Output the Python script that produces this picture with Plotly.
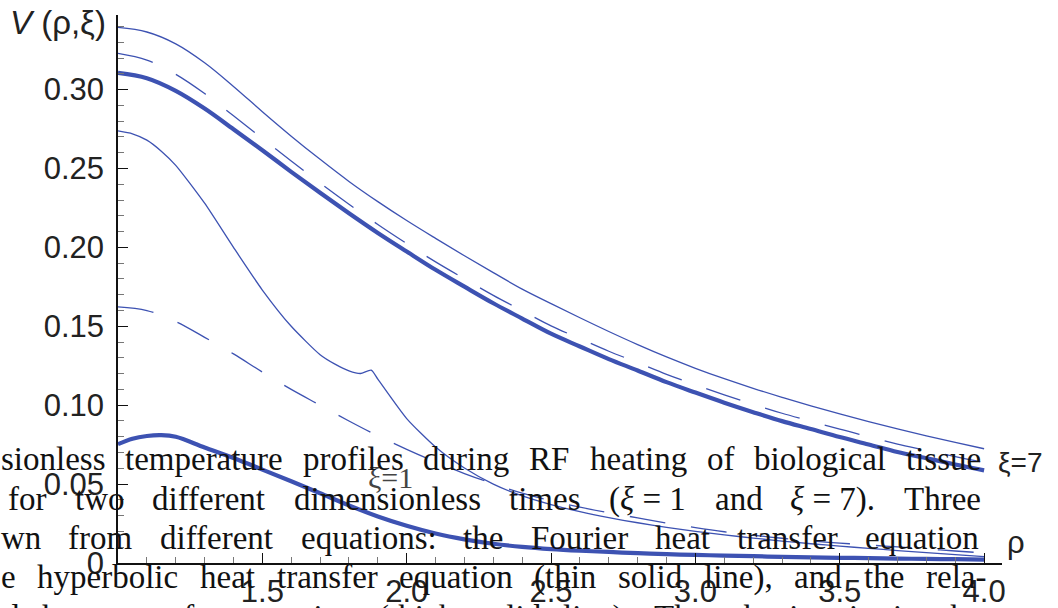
import plotly.graph_objects as go

# ---------------- data ----------------
rho = [1.0, 1.1, 1.2, 1.3, 1.4, 1.5, 1.6, 1.7, 1.8, 1.9, 2.0, 2.1, 2.2, 2.3, 2.4, 2.5,
       2.6, 2.7, 2.8, 2.9, 3.0, 3.1, 3.2, 3.3, 3.4, 3.5, 3.6, 3.7, 3.8, 3.9, 4.0]

# xi = 7
hyperbolic_7 = [0.3394, 0.3365, 0.3290, 0.3170, 0.3020, 0.2860, 0.2705, 0.2558, 0.2418, 0.2290,
                0.2170, 0.2057, 0.1947, 0.1840, 0.1736, 0.1644, 0.1554, 0.1467, 0.1384, 0.1306,
                0.1234, 0.1168, 0.1107, 0.1050, 0.0996, 0.0945, 0.0896, 0.0850, 0.0806, 0.0764, 0.0724]
fourier_7 = [0.3229, 0.3187, 0.3097, 0.2975, 0.2834, 0.2691, 0.2547, 0.2408, 0.2274, 0.2145,
             0.2024, 0.1908, 0.1801, 0.1696, 0.1599, 0.1503, 0.1422, 0.1342, 0.1270, 0.1196,
             0.1130, 0.1066, 0.1006, 0.0949, 0.0899, 0.0848, 0.0801, 0.0753, 0.0714, 0.0674, 0.0637]
relativistic_7 = [0.3106, 0.3072, 0.2992, 0.2880, 0.2749, 0.2616, 0.2479, 0.2346, 0.2217, 0.2092,
                  0.1974, 0.1858, 0.1751, 0.1646, 0.1549, 0.1453, 0.1372, 0.1292, 0.1220, 0.1146,
                  0.1080, 0.1016, 0.0956, 0.0899, 0.0849, 0.0798, 0.0751, 0.0703, 0.0664, 0.0624, 0.0587]

# xi = 1
rho_hyp_1 = [1.0, 1.05, 1.1, 1.15, 1.2, 1.3, 1.4, 1.5, 1.6, 1.7, 1.75, 1.8, 1.84, 1.877, 1.9, 2.0,
             2.1, 2.2, 2.3, 2.4, 2.5, 2.6, 2.7, 2.8, 2.9, 3.0, 3.1, 3.2, 3.3, 3.4, 3.5, 3.6, 3.7,
             3.8, 3.9, 4.0]
hyperbolic_1 = [0.2738, 0.2720, 0.2680, 0.2610, 0.2520, 0.2280, 0.2000, 0.1730, 0.1500, 0.1320,
                0.1262, 0.1218, 0.1201, 0.1222, 0.1165, 0.0915, 0.0735, 0.0602, 0.0500, 0.0425,
                0.0370, 0.0325, 0.0287, 0.0255, 0.0226, 0.0200, 0.0178, 0.0158, 0.0139, 0.0122,
                0.0107, 0.0093, 0.0079, 0.0066, 0.0053, 0.0040]
fourier_1 = [0.1623, 0.1600, 0.1530, 0.1430, 0.1325, 0.1210, 0.1100, 0.1000, 0.0900, 0.0806,
             0.0720, 0.0640, 0.0567, 0.0502, 0.0443, 0.0395, 0.0354, 0.0318, 0.0286, 0.0253,
             0.0224, 0.0198, 0.0176, 0.0157, 0.0140, 0.0126, 0.0114, 0.0102, 0.0089, 0.0076, 0.0064]
rho_rel_1 = [1.0, 1.05, 1.1, 1.15, 1.2, 1.3, 1.4, 1.5, 1.6, 1.7, 1.8, 1.9, 2.0, 2.1, 2.2, 2.3,
             2.4, 2.5, 2.6, 2.7, 2.8, 2.9, 3.0, 3.1, 3.2, 3.3, 3.4, 3.5, 3.6, 3.7, 3.8, 3.9, 4.0]
relativistic_1 = [0.0753, 0.0788, 0.0805, 0.0810, 0.0800, 0.0732, 0.0665, 0.0592, 0.0518, 0.0442,
                  0.0365, 0.0295, 0.0236, 0.0187, 0.0150, 0.0122, 0.0102, 0.0088, 0.0078, 0.0070,
                  0.0062, 0.0056, 0.0051, 0.0047, 0.0043, 0.0039, 0.0036, 0.0033, 0.0031, 0.0028,
                  0.0026, 0.0024, 0.0022]

x_tick_vals = [1.5, 2.0, 2.5, 3.0, 3.5, 4.0]
x_tick_text = ["1.5", "2.0", "2.5", "3.0", "3.5", "4.0"]
y_tick_vals = [0.0, 0.05, 0.10, 0.15, 0.20, 0.25, 0.30]
y_tick_text = ["0", "0.05", "0.10", "0.15", "0.20", "0.25", "0.30"]

# caption text visible in the picture (justified lines)
caption_line1 = ["sionless", "temperature", "profiles", "during", "RF", "heating", "of", "biological", "tissue"]
caption_line2 = ["for", "two", "different", "dimensionless", "times", "(ξ = 1", "and", "ξ = 7).", "Three"]
caption_line3 = ["wn", "from", "different", "equations:", "the", "Fourier", "heat", "transfer", "equation"]
caption_line4 = ["e", "hyperbolic", "heat", "transfer", "equation", "(thin", "solid", "line),", "and", "the", "rela-"]
caption_line5 = ["d", "heat", "transfer", "equation", "(thick", "solid", "line).", "The", "physics", "is", "in", "the"]

# ---------------- layout geometry ----------------
W, H = 1058, 608
ML, MR, MT, MB = 118, 56, 15, 45
PW, PH = W - ML - MR, H - MT - MB
XR = [1.0, 1.0 + PW / 288.7]
YR = [0.0, PH / 1578.0]

BLUE = "#3d52b2"


def px_x(px):
    return (px - ML) / PW


def px_y(py):
    return (MT + PH - py) / PH


fig = go.Figure()
thin = dict(color=BLUE, width=1.3)
fig.add_trace(go.Scatter(x=rho, y=hyperbolic_7, mode="lines", line=dict(**thin, shape="spline")))
fig.add_trace(go.Scatter(x=rho, y=fourier_7, mode="lines", line=dict(**thin, dash="36px,26px", shape="spline")))
fig.add_trace(go.Scatter(x=rho, y=relativistic_7, mode="lines", line=dict(color=BLUE, width=4.2, shape="spline")))
fig.add_trace(go.Scatter(x=rho_hyp_1, y=hyperbolic_1, mode="lines", line=dict(**thin, shape="spline", smoothing=0.6)))
fig.add_trace(go.Scatter(x=rho, y=fourier_1, mode="lines", line=dict(**thin, dash="36px,26px", shape="spline")))
fig.add_trace(go.Scatter(x=rho_rel_1, y=relativistic_1, mode="lines", line=dict(color=BLUE, width=4.2, shape="spline")))

tickfont = dict(family="Liberation Sans, Arial, sans-serif", size=31, color="#222")
fig.update_xaxes(range=XR, automargin=False, showgrid=False, zeroline=False, showline=True,
                 linecolor="#111", linewidth=1.6,
                 tickmode="array", tickvals=x_tick_vals, ticktext=x_tick_text, ticks="inside",
                 ticklen=10, tickwidth=1, tickcolor="#111", tickfont=tickfont, ticklabelstandoff=0,
                 minor=dict(tickmode="linear", tick0=1.0, dtick=0.1, ticks="inside", ticklen=6,
                            tickwidth=1, tickcolor="#777"))
fig.update_yaxes(range=YR, automargin=False, showgrid=False, zeroline=False, showline=True,
                 linecolor="#111", linewidth=1.6,
                 tickmode="array", tickvals=y_tick_vals, ticktext=y_tick_text, ticks="inside",
                 ticklen=10, tickwidth=1, tickcolor="#111", tickfont=tickfont, ticklabelstandoff=6,
                 minor=dict(tickmode="linear", tick0=0.0, dtick=0.01, ticks="inside", ticklen=6,
                            tickwidth=1, tickcolor="#777"))

ann = []
sans = "Liberation Sans, Arial, sans-serif"
serif = "Liberation Serif, Times New Roman, serif"
ann.append(dict(x=px_x(108), y=px_y(22), xref="paper", yref="paper", xanchor="right", yanchor="middle",
                text="<i>V</i> (ρ,ξ)", showarrow=False, font=dict(family=sans, size=33, color="#222")))
ann.append(dict(x=px_x(1016), y=px_y(542), xref="paper", yref="paper", xanchor="center", yanchor="middle",
                text="ρ", showarrow=False, font=dict(family=sans, size=31, color="#222")))
ann.append(dict(x=px_x(996), y=px_y(462), xref="paper", yref="paper", xanchor="left", yanchor="middle",
                text="ξ=7", showarrow=False, font=dict(family=sans, size=28, color="#222")))
ann.append(dict(x=px_x(366), y=px_y(477), xref="paper", yref="paper", xanchor="left", yanchor="middle",
                text="ξ=1", showarrow=False, font=dict(family=serif, size=30, color="#444")))

# Times-like advance widths (per 1000 em) used to justify the caption lines
CW = {' ': 250, 'a': 444, 'b': 500, 'c': 444, 'd': 500, 'e': 444, 'f': 333, 'g': 500, 'h': 500,
      'i': 278, 'j': 278, 'k': 500, 'l': 278, 'm': 778, 'n': 500, 'o': 500, 'p': 500, 'q': 500,
      'r': 333, 's': 389, 't': 278, 'u': 500, 'v': 500, 'w': 722, 'x': 500, 'y': 500, 'z': 444,
      'F': 556, 'R': 667, 'T': 611, '(': 333, ')': 333, '.': 250, ',': 250, ':': 278, '=': 564,
      '-': 333, 'ξ': 440, '1': 500, '7': 500}
CAP_SIZE = 33


def wid(s):
    return sum(CW.get(ch, 500) for ch in s) / 1000.0 * CAP_SIZE


caption = [(caption_line1, 0, 980, 470), (caption_line2, 7, 980, 510), (caption_line3, 0, 978, 549),
           (caption_line4, 0, 985, 588), (caption_line5, 2, 980, 628)]
for words, left, right, base in caption:
    widths = [wid(w) for w in words]
    gap = (right - left - sum(widths)) / (len(words) - 1)
    xpos = left
    for w, ww in zip(words, widths):
        ann.append(dict(x=px_x(xpos), y=px_y(base - 11), xref="paper", yref="paper", xanchor="left",
                        yanchor="middle", text=w.replace("ξ", "<i>ξ</i>"), showarrow=False,
                        borderpad=0, font=dict(family=serif, size=CAP_SIZE, color="#111")))
        xpos += ww + gap

fig.update_layout(width=W, height=H, margin=dict(l=ML, r=MR, t=MT, b=MB), showlegend=False,
                  paper_bgcolor="white", plot_bgcolor="white", annotations=ann)
fig.write_html("out.html")
